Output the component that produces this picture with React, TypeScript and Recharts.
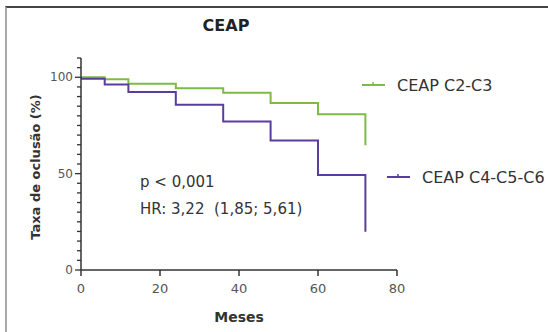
import React from 'react'
import { LineChart, Line, XAxis, YAxis, Customized } from 'recharts'

// curvas de Kaplan-Meier
const monthsC23 = [0, 6, 12, 24, 36, 48, 60, 72, 72]
const occlusionC23 = [100, 99, 96.6, 94.3, 92, 86.7, 80.8, 80.8, 64.7]
const monthsC456 = [0, 6, 12, 24, 36, 48, 60, 72, 72]
const occlusionC456 = [99.2, 96.2, 92.4, 85.8, 77.1, 67.2, 49.3, 49.3, 19.9]

const xTicks = [0, 20, 40, 60, 80]
const yTicks = [0, 5, 10, 15, 20, 25, 30, 35, 40, 45, 50, 55, 60, 65, 70, 75, 80, 85, 90, 95, 100, 105, 110]
const yLabelTicks = [0, 50, 100]

const seriesNames = ['CEAP C2-C3', 'CEAP C4-C5-C6']
const GREEN = '#7dbb45'
const PURPLE = '#5a3d9e'
const FONT = '"DejaVu Sans", sans-serif'

const dataC23 = monthsC23.map((m, i) => ({ month: m, value: occlusionC23[i] }))
const dataC456 = monthsC456.map((m, i) => ({ month: m, value: occlusionC456[i] }))

function YTick({ x, y, payload }: any) {
  const major = yLabelTicks.includes(payload.value)
  return (
    <g>
      <line x1={x} x2={x - (major ? 6 : 4)} y1={y} y2={y} stroke="#333" strokeWidth={1.3} />
      {major && (
        <text x={x - 8} y={y} textAnchor="end" dominantBaseline="central" fontSize={12} fill="#555" fontFamily={FONT}>
          {payload.value}
        </text>
      )}
    </g>
  )
}

function Annotations() {
  return (
    <g fontFamily={FONT}>
      <text x={226} y={31} textAnchor="middle" fontSize={16} fontWeight="bold" fill="#222">CEAP</text>
      <text transform="translate(40,167) rotate(-90)" textAnchor="middle" fontSize={13} fontWeight="bold" fill="#333">
        Taxa de oclusão (%)
      </text>
      <text x={239} y={322} textAnchor="middle" fontSize={14} fontWeight="bold" fill="#333">Meses</text>

      <text x={140} y={187} fontSize={15} fill="#333">p &lt; 0,001</text>
      <text x={140} y={214} fontSize={15} fill="#333">{'HR: 3,22\u00a0\u00a0(1,85; 5,61)'}</text>

      {/* legenda */}
      <line x1={362} x2={385} y1={85} y2={85} stroke={GREEN} strokeWidth={2} />
      <line x1={373} x2={373} y1={82} y2={85} stroke={GREEN} strokeWidth={1.5} />
      <text x={397} y={85} dominantBaseline="central" fontSize={16} fill="#333">{seriesNames[0]}</text>
      <line x1={387} x2={410} y1={177} y2={177} stroke={PURPLE} strokeWidth={2} />
      <line x1={398} x2={398} y1={174} y2={177} stroke={PURPLE} strokeWidth={1.5} />
      <text x={422} y={177} dominantBaseline="central" fontSize={16} fill="#333">{seriesNames[1]}</text>
    </g>
  )
}

export default function App() {
  return (
    <div style={{ position: 'absolute', left: 0, top: 0, width: 548, height: 332, background: '#fff' }}>
      <div
        style={{
          position: 'absolute', left: 5, top: 6, width: 543, height: 326,
          borderTop: '2px solid #444', borderLeft: '2px solid #aaa', boxSizing: 'border-box',
        }}
      />
      <LineChart width={548} height={332} margin={{ top: 58, right: 151, bottom: 0, left: 0 }}>
        <XAxis
          dataKey="month"
          type="number"
          domain={[0, 80]}
          ticks={xTicks}
          height={62}
          tickSize={6}
          tickMargin={8}
          stroke="#333"
          strokeWidth={1.5}
          tick={{ fontSize: 13, fill: '#555', fontFamily: FONT }}
        />
        <YAxis
          type="number"
          domain={[0, 110]}
          ticks={yTicks}
          interval={0}
          width={81}
          tickSize={0}
          tickMargin={0}
          tickLine={false}
          stroke="#333"
          strokeWidth={1.5}
          tick={<YTick />}
        />
        <Line
          data={dataC23}
          dataKey="value"
          name={seriesNames[0]}
          type="stepAfter"
          stroke={GREEN}
          strokeWidth={2}
          dot={false}
          isAnimationActive={false}
        />
        <Line
          data={dataC456}
          dataKey="value"
          name={seriesNames[1]}
          type="stepAfter"
          stroke={PURPLE}
          strokeWidth={2}
          dot={false}
          isAnimationActive={false}
        />
        <Customized component={Annotations} />
      </LineChart>
    </div>
  )
}
